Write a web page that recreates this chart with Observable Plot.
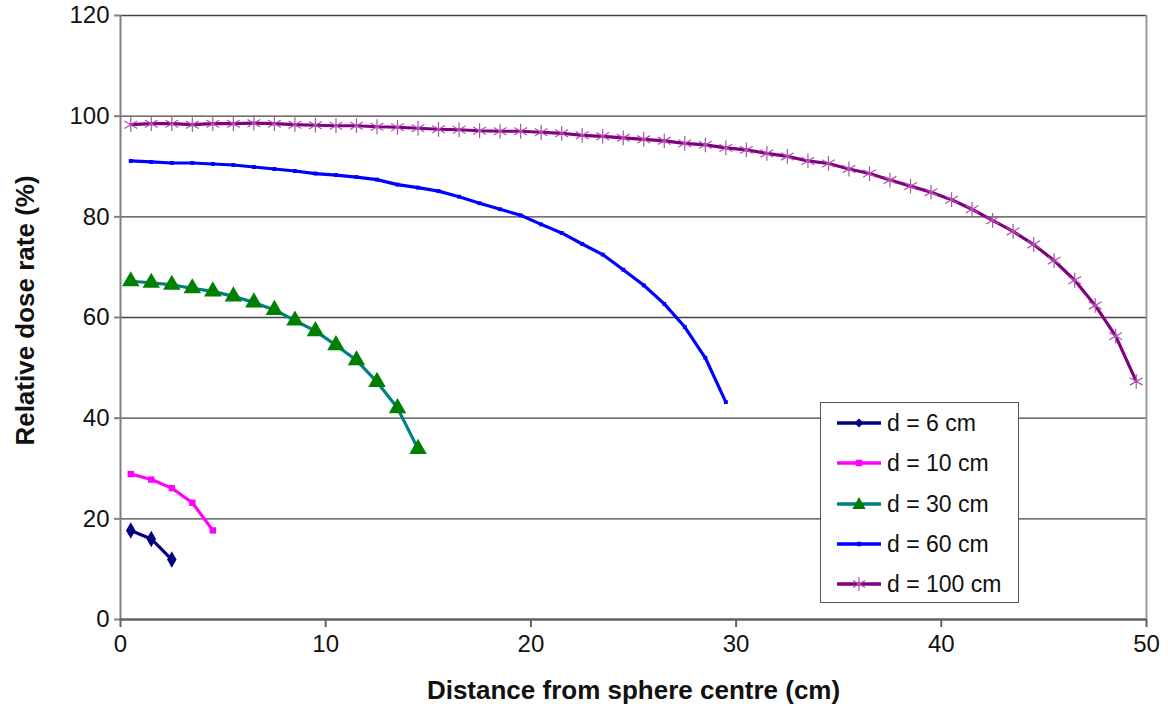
<!DOCTYPE html>
<html>
<head>
<meta charset="utf-8">
<script src="https://cdn.jsdelivr.net/npm/d3@7"></script>
<script src="https://cdn.jsdelivr.net/npm/@observablehq/plot@0.6"></script>
<style>
  html, body { margin: 0; padding: 0; background: #fff; }
  #wrap { position: relative; width: 1168px; height: 706px; font-family: "Liberation Sans", Arial, sans-serif; }
  #legend { position: absolute; left: 820px; top: 402px; width: 197px; height: 199px; border: 1.5px solid #555; background: #fff; }
  #legend .row { position: absolute; left: 0; height: 30px; display: flex; align-items: center; }
  #legend .row span { font-size: 23px; color: #111; margin-left: 4px; }
  svg text { fill: #111; }
</style>
</head>
<body>
<div id="wrap"></div>
<script>
// Distances (cm) at which dose rate was sampled
const distances = [0.5, 1.5, 2.5, 3.5, 4.5, 5.5, 6.5, 7.5, 8.5, 9.5,
  10.5, 11.5, 12.5, 13.5, 14.5, 15.5, 16.5, 17.5, 18.5, 19.5,
  20.5, 21.5, 22.5, 23.5, 24.5, 25.5, 26.5, 27.5, 28.5, 29.5,
  30.5, 31.5, 32.5, 33.5, 34.5, 35.5, 36.5, 37.5, 38.5, 39.5,
  40.5, 41.5, 42.5, 43.5, 44.5, 45.5, 46.5, 47.5, 48.5, 49.5];

const seriesNames = ["d = 6 cm", "d = 10 cm", "d = 30 cm", "d = 60 cm", "d = 100 cm"];

const dose6 = [17.7, 16.0, 11.9];
const dose10 = [28.9, 27.8, 26.1, 23.2, 17.7];
const dose30 = [67.2, 66.9, 66.5, 65.8, 65.2, 64.2, 63.0, 61.5, 59.4, 57.3,
  54.5, 51.5, 47.2, 42.0, 33.9];
const dose60 = [91.1, 90.9, 90.7, 90.7, 90.5, 90.3, 89.9, 89.5, 89.1, 88.6,
  88.3, 87.9, 87.4, 86.4, 85.8, 85.1, 84.0, 82.7, 81.5, 80.3,
  78.5, 76.8, 74.6, 72.5, 69.5, 66.4, 62.7, 58.1, 52.0, 43.2];
const dose100 = [98.3, 98.5, 98.5, 98.3, 98.5, 98.5, 98.6, 98.5, 98.3, 98.2,
  98.1, 98.1, 97.9, 97.8, 97.6, 97.4, 97.3, 97.1, 97.0, 97.0,
  96.8, 96.6, 96.2, 96.0, 95.7, 95.4, 95.1, 94.6, 94.3, 93.7,
  93.3, 92.6, 92.0, 91.1, 90.6, 89.5, 88.6, 87.3, 86.1, 84.9,
  83.4, 81.5, 79.3, 77.1, 74.5, 71.3, 67.4, 62.4, 56.3, 47.3];

const xTicks = [0, 10, 20, 30, 40, 50];
const yTicks = [0, 20, 40, 60, 80, 100, 120];
const xTitle = "Distance from sphere centre (cm)";
const yTitle = "Relative dose rate (%)";

const allDoses = [dose6, dose10, dose30, dose60, dose100];
const styles = [
  {line: "#000080", mark: "#000080", symbol: "diamond", r: 5, fill: true},
  {line: "#FF00FF", mark: "#FF00FF", symbol: "square", r: 3.6, fill: true},
  {line: "#008080", mark: "#008000", symbol: "triangle", r: 6.5, fill: true},
  {line: "#0000FF", mark: "#0000FF", symbol: "square", r: 2.2, fill: true},
  {line: "#800080", mark: "#B050B0", symbol: "asterisk", r: 7, fill: false}
];

const tables = allDoses.map((vals, i) => vals.map((v, j) => ({x: distances[j], y: v, s: seriesNames[i]})));

const seriesMarks = tables.flatMap((t, i) => {
  const st = styles[i];
  const line = Plot.line(t, {x: "x", y: "y", stroke: st.line, strokeWidth: 3.2});
  const dot = st.fill
    ? Plot.dot(t, {x: "x", y: "y", symbol: () => st.symbol, r: st.r, fill: st.mark, stroke: "none"})
    : Plot.dot(t, {x: "x", y: "y", symbol: () => st.symbol, r: st.r, stroke: st.mark, strokeWidth: 1.2, fill: "none"});
  return [line, dot];
});

const chart = Plot.plot({
  width: 1168,
  height: 706,
  marginLeft: 120,
  marginRight: 22,
  marginTop: 15,
  marginBottom: 87,
  style: {fontFamily: "'Liberation Sans', Arial, sans-serif", fontSize: "24px", background: "#fff"},
  x: {domain: [0, 50]},
  y: {domain: [0, 120]},
  symbol: {type: "identity"},
  marks: [
    Plot.ruleY(yTicks.filter(d => d > 0), {stroke: "#444", strokeWidth: 1.3}),
    Plot.ruleX([50], {stroke: "#999", strokeWidth: 2}),
    Plot.axisY({ticks: yTicks, tickSize: 6, tickPadding: 5, label: null, stroke: "#808080", strokeWidth: 2, fontSize: 24}),
    Plot.ruleX([0], {stroke: "#808080", strokeWidth: 2}),
    Plot.axisX({ticks: xTicks, tickSize: 8, tickPadding: 7, label: null, stroke: "#606060", strokeWidth: 2, fontSize: 24}),
    Plot.ruleY([0], {stroke: "#606060", strokeWidth: 2.5}),
    Plot.text([xTitle], {text: d => d, frameAnchor: "bottom", dy: 71, lineAnchor: "middle", textAnchor: "middle", fontSize: 26, fontWeight: "bold"}),
    Plot.text([yTitle], {text: d => d, frameAnchor: "left", dx: -95, dy: -7, rotate: -90, lineAnchor: "middle", textAnchor: "middle", fontSize: 26, fontWeight: "bold"}),
    ...seriesMarks
  ]
});

const wrap = document.getElementById("wrap");
wrap.appendChild(chart);

// Legend (HTML overlay inside plot area)
const legend = document.createElement("div");
legend.id = "legend";
const symbolPaths = {
  diamond: r => `M0,${-r}L${r},0L0,${r}L${-r},0Z`,
  square: r => `M${-r},${-r}H${r}V${r}H${-r}Z`,
  triangle: r => `M0,${-r}L${r * 0.95},${r * 0.7}L${-r * 0.95},${r * 0.7}Z`,
  asterisk: r => `M0,${-r}V${r}M${-r * 0.87},${-r * 0.5}L${r * 0.87},${r * 0.5}M${-r * 0.87},${r * 0.5}L${r * 0.87},${-r * 0.5}`
};
const rowCenters = [20, 60, 101, 141, 181];
seriesNames.forEach((name, i) => {
  const st = styles[i];
  const row = document.createElement("div");
  row.className = "row";
  row.style.top = (rowCenters[i] - 15) + "px";
  row.style.left = "14px";
  const rr = st.symbol === "triangle" ? 7 : st.symbol === "asterisk" ? 7 : st.symbol === "square" && i === 3 ? 2.2 : st.symbol === "square" ? 3.2 : 4.5;
  const markAttr = st.fill ? `fill="${st.mark}"` : `fill="none" stroke="${st.mark}" stroke-width="1.2"`;
  row.innerHTML = `<svg width="48" height="30"><line x1="2" y1="15" x2="46" y2="15" stroke="${st.line}" stroke-width="3.5"/><path transform="translate(24,15)" d="${symbolPaths[st.symbol](rr)}" ${markAttr}/></svg><span>${name}</span>`;
  legend.appendChild(row);
});
wrap.appendChild(legend);
</script>
</body>
</html>
